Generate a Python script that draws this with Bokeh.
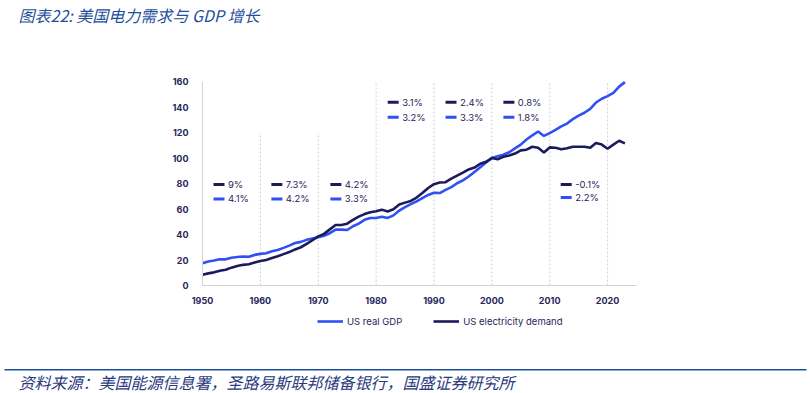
from bokeh.plotting import figure
from bokeh.models import Label, Legend, LegendItem, Range1d, FixedTicker, BoxAnnotation
from bokeh.core.properties import value
from bokeh.embed import file_html
from bokeh.resources import INLINE

# ---- data (index, 2000 = 100) ----
years = list(range(1950, 2024))
gdp = [17.5, 18.8, 19.6, 20.6, 20.5, 21.8, 22.3, 22.8, 22.5, 24.0,
       24.8, 25.3, 26.8, 27.9, 29.5, 31.3, 33.3, 34.2, 35.8, 36.9,
       37.8, 39.0, 41.0, 43.8, 43.8, 43.5, 46.5, 48.5, 51.5, 53.0,
       53.0, 54.0, 53.0, 55.0, 58.8, 61.5, 63.8, 66.0, 68.5, 71.0,
       72.7, 72.5, 75.0, 77.2, 80.2, 82.5, 85.5, 89.0, 92.8, 96.5,
       100.0, 101.3, 102.6, 104.5, 107.5, 110.5, 114.5, 117.8, 120.8, 117.3,
       119.5, 122.0, 124.8, 127.0, 130.5, 133.2, 135.5, 138.5, 143.5, 146.5,
       148.5, 151.0, 156.0, 159.5]
elec = [8.5, 9.5, 10.3, 11.5, 12.3, 14.0, 15.3, 16.2, 16.7, 18.0,
        19.2, 20.0, 21.5, 23.0, 24.6, 26.2, 28.3, 30.0, 32.6, 35.5,
        38.5, 40.5, 44.0, 47.5, 47.5, 48.5, 51.5, 54.0, 56.0, 57.5,
        58.3, 59.5, 58.0, 59.8, 63.5, 65.0, 66.3, 69.0, 72.5, 76.5,
        79.5, 80.8, 81.0, 83.8, 86.2, 88.5, 91.0, 92.5, 95.5, 97.0,
        100.0, 99.0, 101.0, 102.0, 103.5, 106.0, 106.5, 108.8, 108.0, 104.3,
        108.3, 108.0, 106.8, 107.6, 108.8, 108.8, 108.8, 108.0, 111.8, 110.5,
        107.3, 110.5, 113.5, 111.5]

# period growth rates (CAGR) per decade
elec_growth = ["9%", "7.3%", "4.2%", "3.1%", "2.4%", "0.8%", "-0.1%"]
gdp_growth = ["4.1%", "4.2%", "3.3%", "3.2%", "3.3%", "1.8%", "2.2%"]

x_ticks = [1950, 1960, 1970, 1980, 1990, 2000, 2010, 2020]
y_ticks = [0, 20, 40, 60, 80, 100, 120, 140, 160]

title_text = "图表22:  美国电力需求与 GDP 增长"
source_text = "资料来源：美国能源信息署，圣路易斯联邦储备银行，国盛证券研究所"

# layout of annotation blocks (year of swatch start, y of the two rows)
ann_x = [1951.9, 1961.9, 1972.1, 1982.0, 1992.0, 2002.0, 2011.9]
ann_y_elec = [79.2, 79.2, 79.2, 143.8, 143.8, 143.8, 79.2]
ann_y_gdp = [67.9, 67.9, 67.9, 132.0, 132.0, 132.0, 69.0]
grid_years = [1960, 1970, 1980, 1990, 2000, 2010, 2020]
grid_top = [120, 120, 160, 160, 160, 160, 160]

GDP_C = "#2e50f4"
ELEC_C = "#1b1b5c"
TXT_C = "#26265a"
FONT = value("Inter")
W, H = 810, 393

# plot area: 1950..2025 over px 202..636, 0..160 over py 285..81
x0_px, x1_px, y0_px, y1_px = 202, 636, 285, 81
xs = (2025 - 1950) / (x1_px - x0_px)
ys = 160 / (y0_px - y1_px)
p = figure(width=W, height=H, output_backend="svg", toolbar_location=None,
           x_range=Range1d(1950 - x0_px * xs, 1950 + (W - x0_px) * xs),
           y_range=Range1d(-(H - y0_px) * ys, y0_px * ys),
           min_border=0)
p.outline_line_color = None
p.xgrid.grid_line_color = None
p.ygrid.grid_line_color = None

p.xaxis.fixed_location = 0
p.yaxis.fixed_location = 1950
p.xaxis.bounds = (1950, 2025)
p.yaxis.bounds = (0, 160)
for ax in (p.xaxis[0], p.yaxis[0]):
    ax.axis_line_color = "#d2d2de"
    ax.axis_line_width = 1
    ax.major_tick_line_color = None
    ax.minor_tick_line_color = None
    ax.major_label_text_color = TXT_C
    ax.major_label_text_font = "Inter"
    ax.major_label_text_font_style = "bold"
    ax.major_label_text_font_size = "9px"
p.xaxis.ticker = FixedTicker(ticks=x_ticks)
p.yaxis.ticker = FixedTicker(ticks=y_ticks)
p.xaxis.major_label_standoff = 5
p.yaxis.major_label_standoff = 8

# dotted vertical decade lines
p.segment(x0=grid_years, y0=[0] * len(grid_years), x1=grid_years, y1=grid_top,
          line_color="#cfcfd6", line_width=1, line_dash="2 2")

r_gdp = p.line(years, gdp, line_color=GDP_C, line_width=2.6)
r_elec = p.line(years, elec, line_color=ELEC_C, line_width=2.6)

# annotation blocks
sw = 1.9
p.segment(x0=ann_x, y0=ann_y_elec, x1=[a + sw for a in ann_x], y1=ann_y_elec,
          line_color=ELEC_C, line_width=3)
p.segment(x0=ann_x, y0=ann_y_gdp, x1=[a + sw for a in ann_x], y1=ann_y_gdp,
          line_color=GDP_C, line_width=3)
tx = [a + 2.5 for a in ann_x]
p.text(x=tx, y=ann_y_elec, text=elec_growth, text_font=FONT, text_font_size="9.5px",
       text_color=TXT_C, text_baseline="middle", text_align="left")
p.text(x=tx, y=ann_y_gdp, text=gdp_growth, text_font=FONT, text_font_size="9.5px",
       text_color=TXT_C, text_baseline="middle", text_align="left")

legend = Legend(items=[LegendItem(label="US real GDP", renderers=[r_gdp]),
                       LegendItem(label="US electricity demand", renderers=[r_elec])],
                orientation="horizontal", location=(317, H - 327),
                glyph_width=26, glyph_height=12, label_standoff=4, spacing=31,
                padding=0, margin=0, border_line_color=None,
                background_fill_alpha=0, label_text_font="Inter",
                label_text_font_size="9.5px", label_text_color=TXT_C,
                label_height=12)
p.add_layout(legend, "center")

# title and source (screen coordinates, origin bottom-left)
p.add_layout(Label(x=18, y=H - 14, x_units="screen", y_units="screen",
                   text=title_text, text_font="Noto Sans CJK SC",
                   text_font_style="italic", text_font_size="16px",
                   text_color="#1f4f9c", text_baseline="middle"))
p.add_layout(Label(x=18, y=H - 381, x_units="screen", y_units="screen",
                   text=source_text, text_font="Noto Sans CJK SC",
                   text_font_style="italic", text_font_size="16px",
                   text_color="#2a3b80", text_baseline="middle"))
p.add_layout(BoxAnnotation(left=4, right=806, bottom=H - 370, top=H - 368.5,
                           left_units="screen", right_units="screen",
                           bottom_units="screen", top_units="screen",
                           fill_color="#1a4f9c", fill_alpha=1, line_color=None))

open("out.html", "w").write(file_html(p, INLINE))
